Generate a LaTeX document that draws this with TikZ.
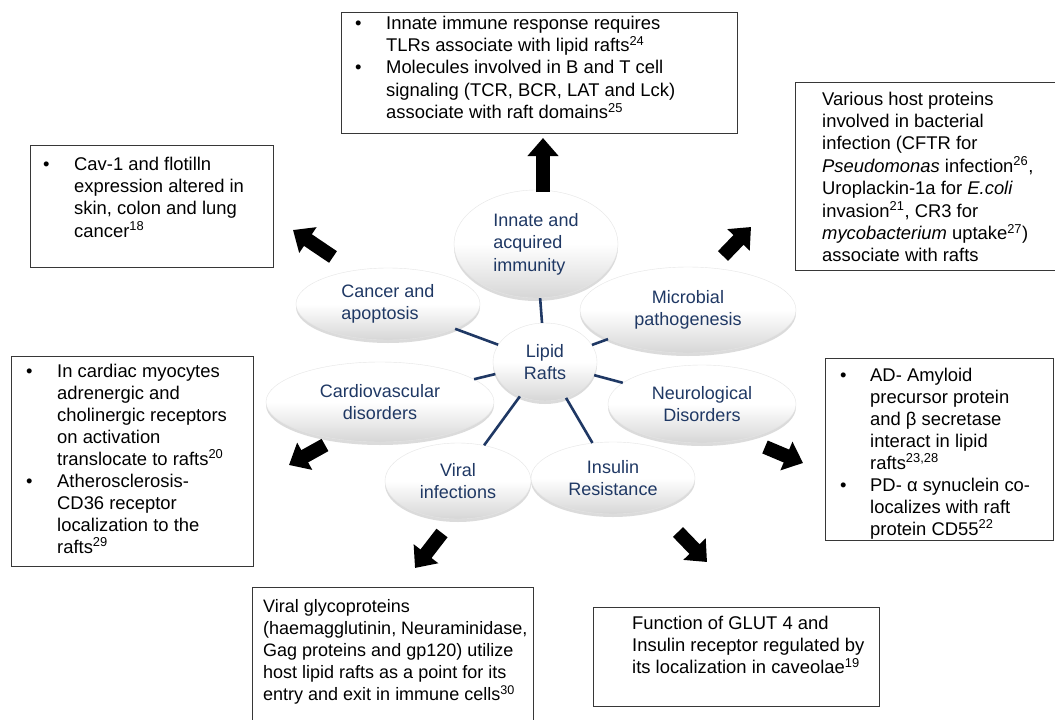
\documentclass[tikz,border=0pt]{standalone}
\usepackage{fontspec}
\setmainfont{Liberation Sans}
\usepackage{xcolor}
\usepackage{tikz}
\usetikzlibrary{arrows.meta,shapes.geometric,shadows}
\definecolor{raftnavy}{RGB}{31,56,100}
\definecolor{boxline}{RGB}{55,55,55}
\newcommand{\refsup}[1]{\smash{\textsuperscript{#1}}}

\begin{document}
\begin{tikzpicture}[x=1pt,y=-1pt,
  topic/.style={ellipse,inner sep=0pt,draw=black!10,top color=white,bottom color=black!16,middle color=white,
    drop shadow={shadow xshift=0pt,shadow yshift=-3pt,opacity=0.28},
    text=raftnavy,font=\fontsize{18}{22.5}\selectfont,align=center},
  spoke/.style={draw=raftnavy,line width=2.6pt},
  infobox/.style={draw=boxline,line width=1.3pt,inner sep=0pt,anchor=north west},
  boxtext/.style={inner sep=0pt,anchor=base west,font=\fontsize{18.4}{22.4}\selectfont},
  bigarrow/.style={line width=14pt,-{Triangle[width=30pt,length=18pt]}}]
\path[use as bounding box,fill=white](0,0)rectangle(1055,720);

\node[topic,minimum width=164,minimum height=108,align=left](immunity)at(536,244){Innate and\\acquired\\immunity};
\node[topic,minimum width=184,minimum height=72,align=left](cancer)at(388,304){Cancer and\\apoptosis};
\node[topic,minimum width=216,minimum height=86](microbial)at(688,310){Microbial\\pathogenesis};
\node[topic,minimum width=228,minimum height=80](cardio)at(380,402){Cardiovascular\\disorders};
\node[topic,minimum width=188,minimum height=78](neuro)at(702,404){Neurological\\Disorders};
\node[topic,minimum width=146,minimum height=76](viral)at(458,481){Viral\\infections};
\node[topic,minimum width=164,minimum height=72](insulin)at(613,478){Insulin\\Resistance};
\node[topic,minimum width=104,minimum height=78](rafts)at(545,362){Lipid\\Rafts};

\draw[spoke](rafts)--(immunity);
\draw[spoke](rafts)--(cancer);
\draw[spoke](rafts)--(microbial);
\draw[spoke](rafts)--(cardio);
\draw[spoke](rafts)--(neuro);
\draw[spoke](rafts)--(viral);
\draw[spoke](rafts)--(insulin);

\coordinate(upS)at(543,192); \coordinate(upE)at(543,138);
\coordinate(ulS)at(333,257); \coordinate(ulE)at(293,230);
\coordinate(urS)at(723,256); \coordinate(urE)at(751,227);
\coordinate(llS)at(325,445); \coordinate(llE)at(289,465);
\coordinate(lrS)at(765,447); \coordinate(lrE)at(803,463);
\coordinate(blS)at(442,533); \coordinate(blE)at(415,568);
\coordinate(brS)at(678,532); \coordinate(brE)at(707,562);
\draw[bigarrow](upS)--(upE);
\draw[bigarrow](ulS)--(ulE);
\draw[bigarrow](urS)--(urE);
\draw[bigarrow](llS)--(llE);
\draw[bigarrow](lrS)--(lrE);
\draw[bigarrow](blS)--(blE);
\draw[bigarrow](brS)--(brE);

\node[infobox,minimum width=396,minimum height=121](immbox)at(341,12){};
\node[boxtext](immtext)at(355,29){\begin{tabular}[t]{@{}p{31pt}@{}l@{}}
\textbullet&Innate immune response requires\\
&TLRs associate with lipid rafts\refsup{24}\\
\textbullet&Molecules involved in B and T cell\\
&signaling (TCR, BCR, LAT and Lck)\\
&associate with raft domains\refsup{25}
\end{tabular}};

\node[infobox,minimum width=270,minimum height=188](microbox)at(795,82){};
\node[boxtext](microtext)at(822,105){\begin{tabular}[t]{@{}l@{}}
Various host proteins\\
involved in bacterial\\
infection (CFTR for\\
\textit{Pseudomonas} infection\refsup{26},\\
Uroplackin-1a for \textit{E.coli}\\
invasion\refsup{21}, CR3 for\\
\textit{mycobacterium} uptake\refsup{27})\\
associate with rafts
\end{tabular}};

\node[infobox,minimum width=243,minimum height=122](cancerbox)at(30,145){};
\node[boxtext](cancertext)at(43,170){\begin{tabular}[t]{@{}p{31pt}@{}l@{}}
\textbullet&Cav-1 and flotilln\\
&expression altered in\\
&skin, colon and lung\\
&cancer\refsup{18}
\end{tabular}};

\node[infobox,minimum width=242,minimum height=210](cardiobox)at(11,356){};
\node[boxtext,font=\fontsize{18.4}{22}\selectfont](cardiotext)at(26,377){\begin{tabular}[t]{@{}p{31pt}@{}l@{}}
\textbullet&In cardiac myocytes\\
&adrenergic and\\
&cholinergic receptors\\
&on activation\\
&translocate to rafts\refsup{20}\\
\textbullet&Atherosclerosis-\\
&CD36 receptor\\
&localization to the\\
&rafts\refsup{29}
\end{tabular}};

\node[infobox,minimum width=228,minimum height=182](neurobox)at(825,358){};
\node[boxtext,font=\fontsize{18.4}{22}\selectfont](neurotext)at(840,381){\begin{tabular}[t]{@{}p{30pt}@{}l@{}}
\textbullet&AD- Amyloid\\
&precursor protein\\
&and β secretase\\
&interact in lipid\\
&rafts\refsup{23,28}\\
\textbullet&PD- α synuclein co-\\
&localizes with raft\\
&protein CD55\refsup{22}
\end{tabular}};

\node[infobox,minimum width=281,minimum height=150](viralbox)at(252,587){};
\node[boxtext,font=\fontsize{18}{22.2}\selectfont](viraltext)at(263,612){\begin{tabular}[t]{@{}l@{}}
Viral glycoproteins\\
(haemagglutinin, Neuraminidase,\\
Gag proteins and gp120) utilize\\
host lipid rafts as a point for its\\
entry and exit in immune cells\refsup{30}
\end{tabular}};

\node[infobox,minimum width=286,minimum height=99](insulinbox)at(593,607){};
\node[boxtext](insulintext)at(632,629){\begin{tabular}[t]{@{}l@{}}
Function of GLUT 4 and\\
Insulin receptor regulated by\\
its localization in caveolae\refsup{19}
\end{tabular}};
\end{tikzpicture}
\end{document}
